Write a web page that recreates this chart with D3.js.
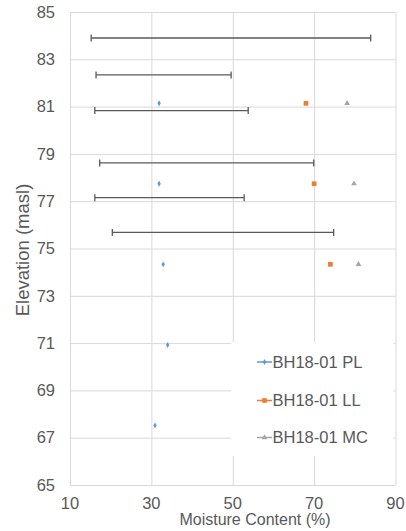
<!DOCTYPE html>
<html>
<head>
<meta charset="utf-8">
<script src="https://cdnjs.cloudflare.com/ajax/libs/d3/7.8.5/d3.min.js"></script>
<style>
    body { margin: 0; background: #fff; }
    text { font-family: "Liberation Sans", Arial, sans-serif; fill: #595959; }
</style>
</head>
<body>
<script>
// range bars (min / max moisture at an elevation)
var rangeElev = [83.9, 82.34, 80.83, 78.62, 77.15, 75.68];
var rangeMin = [15.2, 16.4, 16.1, 17.3, 16.1, 20.4];
var rangeMax = [83.9, 49.6, 53.8, 69.9, 52.8, 74.8];

// BH18-01 series
var plElev = [81.14, 77.74, 74.33, 70.92, 67.52];
var plValues = [31.9, 31.9, 32.9, 34.0, 30.9];
var llElev = [81.14, 77.74, 74.33];
var llValues = [68, 70, 74];
var mcElev = [81.14, 77.74, 74.33];
var mcValues = [78.1, 79.8, 80.9];

var xTicks = [10, 30, 50, 70, 90];
var yTicks = [65, 67, 69, 71, 73, 75, 77, 79, 81, 83, 85];
var seriesNames = ["BH18-01 PL", "BH18-01 LL", "BH18-01 MC"];
var seriesColors = ["#5b9bd5", "#ed7d31", "#a5a5a5"];

function draw_chart() {
    var svg = d3.select("body").append("svg").attr("width", 406).attr("height", 531),
        margin = {top: 12, right: 10.5, bottom: 46, left: 70},
        width = +svg.attr("width") - margin.left - margin.right,
        height = +svg.attr("height") - margin.top - margin.bottom;

    var x = d3.scaleLinear().domain([10, 90]).range([0, width]);
    var y = d3.scaleLinear().domain([65, 85]).range([height, 0]);

    var g = svg.append("g")
        .attr("transform", "translate(" + margin.left + "," + margin.top + ")");

    // gridlines
    g.append("g")
        .call(d3.axisLeft(y).tickValues(yTicks).tickSize(-width).tickFormat(""))
        .call(function (s) {
            s.select(".domain").remove();
            s.selectAll("line").attr("stroke", "#d9d9d9");
        });
    g.append("g")
        .attr("transform", "translate(0," + height + ")")
        .call(d3.axisBottom(x).tickValues(xTicks).tickSize(-height).tickFormat(""))
        .call(function (s) {
            s.select(".domain").remove();
            s.selectAll("line").attr("stroke", "#d9d9d9");
        });

    // tick labels
    g.selectAll(".ylab")
        .data(yTicks)
        .enter().append("text")
        .attr("class", "ylab")
        .attr("x", -15)
        .attr("y", function (d) { return y(d); })
        .attr("dy", "0.35em")
        .attr("text-anchor", "end")
        .style("font-size", "16.5px")
        .text(function (d) { return d; });

    g.selectAll(".xlab")
        .data(xTicks)
        .enter().append("text")
        .attr("class", "xlab")
        .attr("x", function (d) { return x(d); })
        .attr("y", height + 24)
        .attr("text-anchor", "middle")
        .style("font-size", "16.5px")
        .text(function (d) { return d; });

    // legend box sits in the plot, under the range bars
    g.append("rect")
        .attr("x", x(50) - 1.5)
        .attr("y", y(71) - 1)
        .attr("width", width - (x(50) - 1.5) - 2)
        .attr("height", 114)
        .attr("fill", "#fff");

    // range bars with caps
    var bars = g.selectAll(".range")
        .data(rangeElev)
        .enter().append("g")
        .attr("class", "range")
        .attr("stroke", "#595959")
        .attr("stroke-width", 1.3);

    bars.append("line")
        .attr("x1", function (d, i) { return x(rangeMin[i]); })
        .attr("x2", function (d, i) { return x(rangeMax[i]); })
        .attr("y1", function (d) { return y(d); })
        .attr("y2", function (d) { return y(d); });
    bars.append("line")
        .attr("x1", function (d, i) { return x(rangeMin[i]); })
        .attr("x2", function (d, i) { return x(rangeMin[i]); })
        .attr("y1", function (d) { return y(d) - 3.5; })
        .attr("y2", function (d) { return y(d) + 3.5; });
    bars.append("line")
        .attr("x1", function (d, i) { return x(rangeMax[i]); })
        .attr("x2", function (d, i) { return x(rangeMax[i]); })
        .attr("y1", function (d) { return y(d) - 3.5; })
        .attr("y2", function (d) { return y(d) + 3.5; });

    // points
    var diamond = d3.symbol().type(d3.symbolDiamond).size(10);
    var square = d3.symbol().type(d3.symbolSquare).size(22);
    var triangle = d3.symbol().type(d3.symbolTriangle).size(14);

    g.selectAll(".pl")
        .data(plValues)
        .enter().append("path")
        .attr("class", "pl")
        .attr("d", diamond)
        .attr("fill", seriesColors[0])
        .attr("transform", function (d, i) {
            return "translate(" + x(d) + "," + y(plElev[i]) + ")";
        });
    g.selectAll(".ll")
        .data(llValues)
        .enter().append("path")
        .attr("class", "ll")
        .attr("d", square)
        .attr("fill", seriesColors[1])
        .attr("transform", function (d, i) {
            return "translate(" + x(d) + "," + y(llElev[i]) + ")";
        });
    g.selectAll(".mc")
        .data(mcValues)
        .enter().append("path")
        .attr("class", "mc")
        .attr("d", triangle)
        .attr("fill", seriesColors[2])
        .attr("transform", function (d, i) {
            return "translate(" + x(d) + "," + y(mcElev[i]) + ")";
        });

    // legend
    var legendY = [362, 400.5, 437.5];
    var symbols = [diamond, square, triangle];
    var items = svg.selectAll(".leg")
        .data(seriesNames)
        .enter().append("g")
        .attr("class", "leg")
        .attr("transform", function (d, i) {
            return "translate(257," + legendY[i] + ")";
        });
    items.append("line")
        .attr("x1", 0).attr("x2", 15)
        .attr("stroke", function (d, i) { return seriesColors[i]; })
        .attr("stroke-width", 1.5);
    items.append("path")
        .attr("d", function (d, i) { return symbols[i](); })
        .attr("transform", "translate(7.5,0)")
        .attr("fill", function (d, i) { return seriesColors[i]; });
    items.append("text")
        .attr("x", 15.5)
        .attr("dy", "0.35em")
        .style("font-size", "16.5px")
        .text(function (d) { return d; });

    // axis titles
    svg.append("text")
        .attr("x", 255)
        .attr("y", 525)
        .attr("text-anchor", "middle")
        .style("font-size", "16px")
        .text("Moisture Content (%)");

    svg.append("text")
        .attr("transform", "translate(29,250) rotate(-90)")
        .attr("text-anchor", "middle")
        .style("font-size", "18.5px")
        .text("Elevation (masl)");
}

draw_chart();
</script>
</body>
</html>
